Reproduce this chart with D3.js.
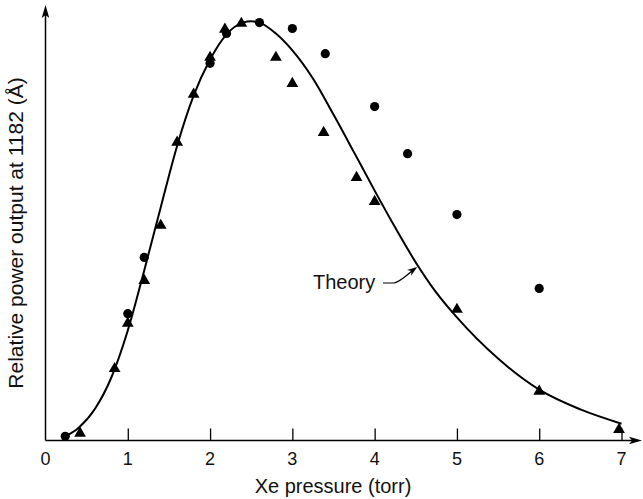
<!DOCTYPE html>
<html>
<head>
<meta charset="utf-8">
<script src="https://cdn.jsdelivr.net/npm/d3@7"></script>
<style>
  html, body { margin: 0; padding: 0; background: #fff; }
  svg { display: block; }
  text { font-family: "Liberation Sans", Arial, Helvetica, sans-serif; fill: #111; }
</style>
</head>
<body>
<svg id="chart" width="643" height="499"></svg>
<script>
// ---- data ----
const xTicks = [0, 1, 2, 3, 4, 5, 6, 7];

const circleX = [0.24, 1.0, 1.2, 2.0, 2.2, 2.6, 3.0, 3.4, 4.0, 4.4, 5.0, 6.0];
const circleY = [0.010, 0.302, 0.436, 0.898, 0.969, 0.995, 0.981, 0.921, 0.795, 0.683, 0.538, 0.362];

const triangleX = [0.42, 0.84, 1.0, 1.2, 1.4, 1.6, 1.8, 2.0, 2.18, 2.38, 2.8, 3.0, 3.38, 3.78, 4.0, 5.0, 6.0, 6.97];
const triangleY = [0.017, 0.171, 0.279, 0.381, 0.512, 0.710, 0.824, 0.912, 0.979, 0.993, 0.912, 0.850, 0.733, 0.626, 0.569, 0.312, 0.117, 0.026];

const theoryX = [0.24, 0.4, 0.6, 0.8, 1.0, 1.2, 1.4, 1.6, 1.8, 2.0, 2.2, 2.4, 2.5, 2.6, 2.8, 3.0, 3.25, 3.5, 3.75, 4.0, 4.25, 4.5, 4.75, 5.0, 5.5, 6.0, 6.5, 7.0];
const theoryY = [0.010, 0.030, 0.075, 0.150, 0.262, 0.405, 0.555, 0.702, 0.821, 0.907, 0.967, 0.995, 0.998, 0.995, 0.969, 0.929, 0.862, 0.776, 0.686, 0.595, 0.507, 0.424, 0.352, 0.293, 0.195, 0.121, 0.074, 0.040];

const xLabel = "Xe pressure (torr)";
const yLabel = "Relative power output at 1182 (Å)";
const theoryLabel = "Theory";
const theoryArrowAt = 4.53;

// ---- layout ----
const svg = d3.select("#chart");
const x = d3.scaleLinear().domain([0, 7]).range([45.5, 621.5]);
const y = d3.scaleLinear().domain([0, 1]).range([440.5, 20.5]);
const x0 = x(0), y0 = y(0);

// axes lines
svg.append("line").attr("x1", x0).attr("y1", y0).attr("x2", 636).attr("y2", y0)
  .attr("stroke", "#000").attr("stroke-width", 1.5);
svg.append("line").attr("x1", x0).attr("y1", y0).attr("x2", x0).attr("y2", 12)
  .attr("stroke", "#000").attr("stroke-width", 1.5);

// arrowheads
function arrowUp(cx, tip) {
  return `M${cx},${tip} L${cx + 3.8},${tip + 13} L${cx},${tip + 10} L${cx - 3.8},${tip + 13} Z`;
}
function arrowRight(tip, cy) {
  return `M${tip},${cy} L${tip - 13},${cy - 3.8} L${tip - 10},${cy} L${tip - 13},${cy + 3.8} Z`;
}
svg.append("path").attr("d", arrowUp(x0, 5)).attr("fill", "#000");
svg.append("path").attr("d", arrowRight(642, y0)).attr("fill", "#000");

// x ticks (inside, pointing up) via d3 axis
const xAxis = d3.axisTop(x).tickValues(xTicks.slice(1)).tickSize(12).tickFormat("");
const gx = svg.append("g").attr("transform", `translate(0,${y0})`).call(xAxis);
gx.select(".domain").remove();
gx.selectAll(".tick line").attr("stroke", "#000").attr("stroke-width", 1.3);

// tick labels
svg.append("g").selectAll("text").data(xTicks).join("text")
  .attr("x", d => x(d)).attr("y", 465)
  .attr("text-anchor", "middle")
  .attr("font-size", 18)
  .text(d => d);

// axis labels
svg.append("text").attr("x", 333).attr("y", 493).attr("text-anchor", "middle")
  .attr("font-size", 20).text(xLabel);
svg.append("text").attr("transform", "translate(23,233) rotate(-90)")
  .attr("text-anchor", "middle").attr("font-size", 21).text(yLabel);

// theory curve
const theory = theoryX.map((d, i) => [d, theoryY[i]]);
const line = d3.line().x(d => x(d[0])).y(d => y(d[1])).curve(d3.curveMonotoneX);
svg.append("path").datum(theory).attr("d", line)
  .attr("fill", "none").attr("stroke", "#000").attr("stroke-width", 2);

// markers
const circles = circleX.map((d, i) => [d, circleY[i]]);
const triangles = triangleX.map((d, i) => [d, triangleY[i]]);
svg.append("g").selectAll("circle").data(circles).join("circle")
  .attr("cx", d => x(d[0])).attr("cy", d => y(d[1])).attr("r", 4.6).attr("fill", "#000");
const tri = d3.symbol().type(d3.symbolTriangle).size(60);
svg.append("g").selectAll("path").data(triangles).join("path")
  .attr("transform", d => `translate(${x(d[0])},${y(d[1])})`)
  .attr("d", tri).attr("fill", "#000");

// theory annotation
const ax = x(theoryArrowAt);
const i0 = d3.bisectLeft(theoryX, theoryArrowAt);
const t = (theoryArrowAt - theoryX[i0 - 1]) / (theoryX[i0] - theoryX[i0 - 1]);
const ay = y(theoryY[i0 - 1] + t * (theoryY[i0] - theoryY[i0 - 1]));
svg.append("text").attr("x", 313).attr("y", 289).attr("font-size", 20).text(theoryLabel);
svg.append("path")
  .attr("d", `M383,283 L394,283 Q400,282 ${ax - 3},${ay + 2}`)
  .attr("fill", "none").attr("stroke", "#000").attr("stroke-width", 1.2);
// small arrowhead at the curve
const ang = Math.atan2(ay + 2 - 283, ax - 3 - 394);
const hx = ax - 1, hy = ay + 1;
const L = 10, W = 3.5;
const bx = hx - L * Math.cos(ang), by = hy - L * Math.sin(ang);
const nx = -Math.sin(ang), ny = Math.cos(ang);
const mx = hx - 7 * Math.cos(ang), my = hy - 7 * Math.sin(ang);
svg.append("path")
  .attr("d", `M${hx},${hy} L${bx + nx * W},${by + ny * W} L${mx},${my} L${bx - nx * W},${by - ny * W} Z`)
  .attr("fill", "#000");
</script>
</body>
</html>
